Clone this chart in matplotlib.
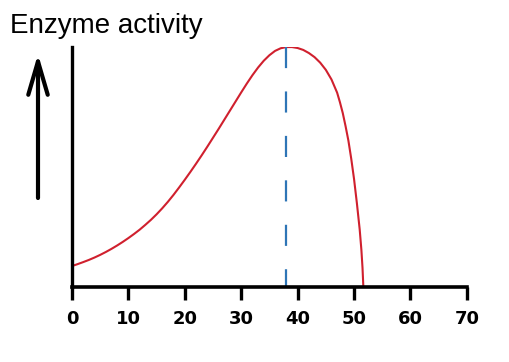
import matplotlib
matplotlib.use("Agg")
import matplotlib.pyplot as plt

# temperature (x) and enzyme activity (y)
temp = [0, 1, 2, 3, 4, 5, 6, 7, 8, 9, 10, 11, 12, 13, 14, 15, 16, 17, 18, 19, 20,
        21, 22, 23, 24, 25, 26, 27, 28, 29, 30, 31, 32, 33, 34, 35, 36, 37, 38, 39,
        40, 41, 42, 43, 44, 45, 46, 47, 47.5, 48, 48.5, 49, 49.5, 50, 50.5, 51,
        51.3, 51.5, 51.65]
activity = [8.75, 9.55, 10.4, 11.3, 12.3, 13.4, 14.6, 15.9, 17.3, 18.8, 20.4, 22.1,
            23.9, 25.9, 28.0, 30.3, 32.8, 35.5, 38.4, 41.5, 44.7, 48.0, 51.4, 54.9,
            58.5, 62.2, 65.9, 69.7, 73.5, 77.3, 81.1, 84.8, 88.3, 91.5, 94.3, 96.6,
            98.4, 99.5, 100, 100, 99.6, 98.8, 97.5, 95.8, 93.5, 90.5, 86.5, 81,
            77, 72.5, 67, 61, 53.5, 45, 35, 24, 15.5, 8, 0]
optimum = 38
xticks = [0, 10, 20, 30, 40, 50, 60, 70]

fig = plt.figure(figsize=(5.1, 3.62), dpi=100)
ax = fig.add_axes([0.141, 0.207, 0.7745, 0.663])

ax.plot(temp, activity, color="#d0202e", lw=1.5, solid_joinstyle="round")
ax.plot([optimum, optimum], [100, 0], color="#2e75b6", lw=1.6, dashes=(9.5, 10.5))

ax.set_xlim(0, 70)
ax.set_ylim(0, 100)
ax.set_xticks(xticks)
ax.set_yticks([])
for s in ["top", "right"]:
    ax.spines[s].set_visible(False)
ax.spines["left"].set_linewidth(2.4)
ax.spines["bottom"].set_linewidth(2.6)
ax.tick_params(axis="x", length=9.5, width=2.4, pad=7, labelsize=13)
for t in ax.get_xticklabels():
    t.set_fontweight("bold")

fig.text(10 / 510, 1 - 33 / 362, "Enzyme activity", fontsize=20,
         family="Liberation Sans", ha="left", va="baseline")

# arrow on the left
ax.annotate("", xy=(38 / 510, 1 - 54 / 362), xytext=(38 / 510, 1 - 198 / 362),
            xycoords="figure fraction", textcoords="figure fraction",
            arrowprops=dict(arrowstyle="->,head_length=2.4,head_width=0.7",
                            lw=3, color="black", shrinkA=0, shrinkB=0))

fig.savefig("out.png", dpi=100)
